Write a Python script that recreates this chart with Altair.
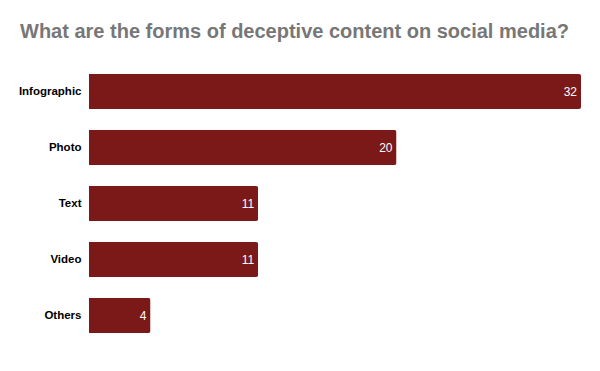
import altair as alt
import pandas as pd

categories = ["Infographic", "Photo", "Text", "Video", "Others"]
values = [32, 20, 11, 11, 4]

df = pd.DataFrame({"form": categories, "count": values})

base = alt.Chart(df).encode(
    y=alt.Y("form:N", sort=categories, title=None,
            scale=alt.Scale(paddingInner=0.375, paddingOuter=0.1875),
            axis=alt.Axis(labelFont="Liberation Sans", labelFontSize=11.5,
                          labelFontWeight="bold", labelColor="#000000",
                          ticks=False, domain=False, labelPadding=8)),
    x=alt.X("count:Q", title=None, scale=alt.Scale(domain=[0, 32], nice=False),
            axis=None),
)

bars = base.mark_bar(color="#7b1818", cornerRadiusTopRight=2, cornerRadiusBottomRight=2)
labels = base.mark_text(align="right", dx=-4, color="#ffffff", fontSize=12,
                        font="Liberation Sans").encode(text="count:Q")

chart = (bars + labels).properties(
    width=492, height=280,
    autosize=alt.AutoSizeParams(type="none"),
    padding={"left": 81, "top": 55.5, "right": 11, "bottom": 20},
    title=alt.TitleParams(
        "What are the forms of deceptive content on social media?",
        anchor="start", frame="group", font="Liberation Sans", fontSize=20,
        fontWeight="bold", color="#777777", dx=-69, offset=6,
        baseline="alphabetic"),
).configure_view(stroke=None)

chart.save("out.html", embed_options={"renderer": "svg", "actions": False})
